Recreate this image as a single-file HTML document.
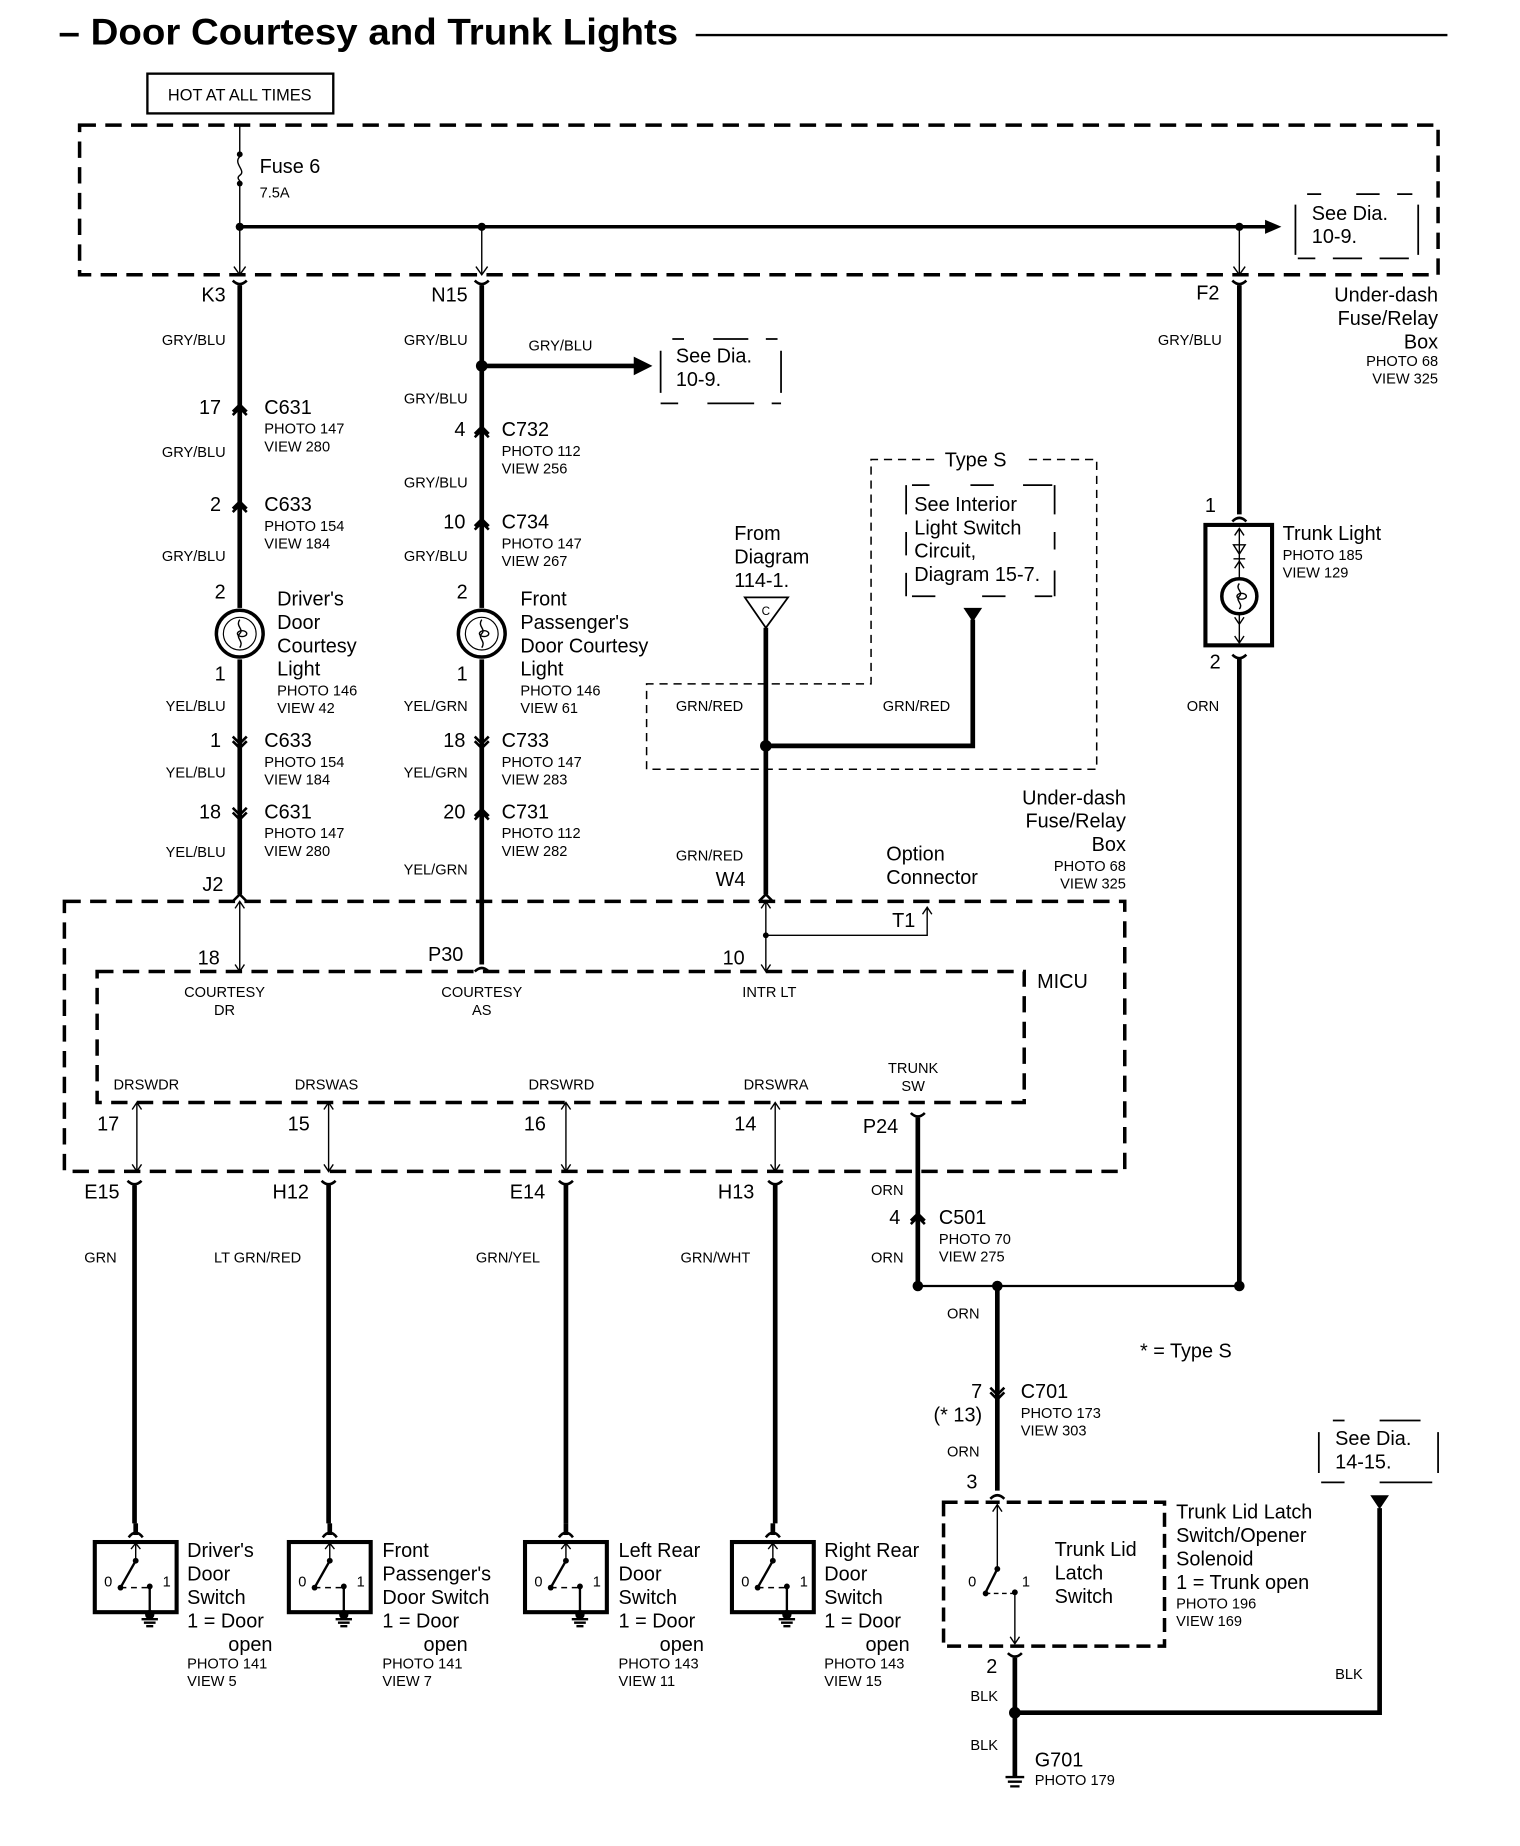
<!DOCTYPE html>
<html><head><meta charset="utf-8"><style>
html,body{margin:0;padding:0;background:#fff}
svg{display:block}
text{font-family:"Liberation Sans",Arial,sans-serif;fill:#000}
.s{font-size:12.5px}
.m{font-size:17px}
.r{text-anchor:end}
.c{text-anchor:middle}
.w{stroke:#000;stroke-width:4;fill:none}
.t{stroke:#000;stroke-width:1.2;fill:none}
.d{stroke:#000;stroke-width:3;fill:none;stroke-dasharray:14 8}
.dt{stroke:#000;stroke-width:1.3;fill:none;stroke-dasharray:7 5}
.ch{stroke:#000;stroke-width:2.2;fill:none}
</style></head><body>
<svg width="1520" height="1846" viewBox="0 0 1300 1579" xmlns="http://www.w3.org/2000/svg">
<defs>
<g id="sw">
 <rect x="0" y="0" width="70" height="60" fill="none" stroke="#000" stroke-width="3.5"/>
 <path d="M35,-16 V-6" stroke="#000" stroke-width="4"/>
 <path d="M29,-4 Q35,-12 41,-4" class="ch"/>
 <path d="M35,2 V15 M31,6 L35,1 L39,6" class="t"/>
 <circle cx="35" cy="16" r="2.5"/>
 <path d="M35,16 L22,39" stroke="#000" stroke-width="2"/>
 <circle cx="22" cy="39" r="2.5"/>
 <path d="M22,39 H46" class="t" stroke-dasharray="5 4"/>
 <circle cx="47" cy="38" r="2.5"/>
 <path d="M47,38 V60" stroke="#000" stroke-width="2"/>
 <text x="8" y="38" class="s">0</text><text x="58" y="38" class="s">1</text>
 <circle cx="47" cy="62" r="4"/>
 <path d="M40,66 H54 M42,69 H52 M44,72 H50" stroke="#000" stroke-width="2"/>
</g>
<g id="lamp">
 <circle cx="0" cy="0" r="20" fill="none" stroke="#000" stroke-width="3"/>
 <circle cx="0" cy="0" r="14" fill="none" stroke="#000" stroke-width="1"/>
 <path d="M0,-12 C-4,-6 4,-4 0,0 C-4,4 4,6 0,12" class="t"/>
 <ellipse cx="2" cy="0" rx="4" ry="2.5" class="t"/>
</g>
</defs>

<!-- Title -->
<text x="50" y="38" style="font-size:32px;font-weight:bold" textLength="530" lengthAdjust="spacingAndGlyphs">– Door Courtesy and Trunk Lights</text>
<path d="M595,30 H1238" stroke="#000" stroke-width="2"/>

<rect x="126" y="63" width="159" height="34" fill="none" stroke="#000" stroke-width="2"/>
<text x="205" y="86" class="c" style="font-size:14px">HOT AT ALL TIMES</text>

<!-- Top fuse box -->
<rect x="68" y="107" width="1162" height="128" class="d"/>
<path d="M205,107 V132 M205,157 V235" class="t"/>
<circle cx="205" cy="132" r="2.5"/><circle cx="205" cy="157" r="2.5"/>
<path d="M205,134 C199,140 211,146 205,150 C201,153 207,155 205,156" class="t"/>
<text x="222" y="148" class="m">Fuse 6</text>
<text x="222" y="169" class="s">7.5A</text>
<path d="M205,194 H1085" stroke="#000" stroke-width="3"/>
<path d="M1082,188 L1096,194 L1082,200 Z"/>
<circle cx="205" cy="194" r="3.5"/><circle cx="412" cy="194" r="3.5"/><circle cx="1060" cy="194" r="3.5"/>
<path d="M412,194 V235 M1060,194 V235" class="t"/>
<path d="M200,228 L205,235 L210,228 M407,228 L412,235 L417,228 M1055,228 L1060,235 L1065,228" class="t"/>
<path d="M1108,175 V218 M1213,175 V218 M1118,166 H1130 M1160,166 H1180 M1195,166 H1208 M1110,221 H1125 M1140,221 H1165 M1180,221 H1205" stroke="#000" stroke-width="1.5"/>
<text x="1122" y="188" class="m">See Dia.</text>
<text x="1122" y="208" class="m">10-9.</text>

<path d="M199,240 Q205,246 211,240 M406,240 Q412,246 418,240 M1054,240 Q1060,246 1066,240" class="ch"/>

<!-- K3 wire -->
<path d="M205,244 V765" class="w"/>
<text x="193" y="258" class="m r">K3</text>
<text x="193" y="295" class="s r">GRY/BLU</text>
<path d="M199,352 L205,346 L211,352 M199,355 L205,349 L211,355" class="ch"/>
<text x="189" y="354" class="m r">17</text>
<text x="226" y="354" class="m">C631</text><text x="226" y="371" class="s">PHOTO 147</text><text x="226" y="386" class="s">VIEW 280</text>
<text x="193" y="391" class="s r">GRY/BLU</text>
<path d="M199,435 L205,429 L211,435 M199,438 L205,432 L211,438" class="ch"/>
<text x="189" y="437" class="m r">2</text>
<text x="226" y="437" class="m">C633</text><text x="226" y="454" class="s">PHOTO 154</text><text x="226" y="469" class="s">VIEW 184</text>
<text x="193" y="480" class="s r">GRY/BLU</text>
<text x="193" y="512" class="m r">2</text>
<rect x="197" y="520" width="16" height="44" fill="#fff"/>
<use href="#lamp" x="205" y="542"/>
<text x="237" y="518" class="m">Driver's</text><text x="237" y="538" class="m">Door</text><text x="237" y="558" class="m">Courtesy</text><text x="237" y="578" class="m">Light</text>
<text x="237" y="595" class="s">PHOTO 146</text><text x="237" y="610" class="s">VIEW 42</text>
<text x="193" y="582" class="m r">1</text>
<text x="193" y="608" class="s r">YEL/BLU</text>
<path d="M199,630 L205,636 L211,630 M199,634 L205,640 L211,634" class="ch"/>
<text x="189" y="639" class="m r">1</text>
<text x="226" y="639" class="m">C633</text><text x="226" y="656" class="s">PHOTO 154</text><text x="226" y="671" class="s">VIEW 184</text>
<text x="193" y="665" class="s r">YEL/BLU</text>
<path d="M199,691 L205,697 L211,691 M199,695 L205,701 L211,695" class="ch"/>
<text x="189" y="700" class="m r">18</text>
<text x="226" y="700" class="m">C631</text><text x="226" y="717" class="s">PHOTO 147</text><text x="226" y="732" class="s">VIEW 280</text>
<text x="193" y="733" class="s r">YEL/BLU</text>
<text x="191" y="762" class="m r">J2</text>
<path d="M199,771 L205,765 L211,771" class="ch"/>

<!-- N15 wire -->
<path d="M412,244 V825" class="w"/>
<text x="400" y="258" class="m r">N15</text>
<text x="400" y="295" class="s r">GRY/BLU</text>
<circle cx="412" cy="313" r="5"/>
<path d="M412,313 H545" stroke="#000" stroke-width="4"/>
<path d="M542,305 L558,313 L542,321 Z"/>
<text x="452" y="300" class="s">GRY/BLU</text>
<path d="M565,300 V336 M668,300 V336 M575,290 H585 M610,290 H640 M655,290 H665 M565,345 H580 M605,345 H645 M660,345 H668" stroke="#000" stroke-width="1.5"/>
<text x="578" y="310" class="m">See Dia.</text><text x="578" y="330" class="m">10-9.</text>
<text x="400" y="345" class="s r">GRY/BLU</text>
<path d="M406,371 L412,365 L418,371 M406,374 L412,368 L418,374" class="ch"/>
<text x="398" y="373" class="m r">4</text>
<text x="429" y="373" class="m">C732</text><text x="429" y="390" class="s">PHOTO 112</text><text x="429" y="405" class="s">VIEW 256</text>
<text x="400" y="417" class="s r">GRY/BLU</text>
<path d="M406,450 L412,444 L418,450 M406,453 L412,447 L418,453" class="ch"/>
<text x="398" y="452" class="m r">10</text>
<text x="429" y="452" class="m">C734</text><text x="429" y="469" class="s">PHOTO 147</text><text x="429" y="484" class="s">VIEW 267</text>
<text x="400" y="480" class="s r">GRY/BLU</text>
<text x="400" y="512" class="m r">2</text>
<rect x="404" y="520" width="16" height="44" fill="#fff"/>
<use href="#lamp" x="412" y="542"/>
<text x="445" y="518" class="m">Front</text><text x="445" y="538" class="m">Passenger's</text><text x="445" y="558" class="m">Door Courtesy</text><text x="445" y="578" class="m">Light</text>
<text x="445" y="595" class="s">PHOTO 146</text><text x="445" y="610" class="s">VIEW 61</text>
<text x="400" y="582" class="m r">1</text>
<text x="400" y="608" class="s r">YEL/GRN</text>
<path d="M406,630 L412,636 L418,630 M406,634 L412,640 L418,634" class="ch"/>
<text x="398" y="639" class="m r">18</text>
<text x="429" y="639" class="m">C733</text><text x="429" y="656" class="s">PHOTO 147</text><text x="429" y="671" class="s">VIEW 283</text>
<text x="400" y="665" class="s r">YEL/GRN</text>
<path d="M406,698 L412,692 L418,698 M406,701 L412,695 L418,701" class="ch"/>
<text x="398" y="700" class="m r">20</text>
<text x="429" y="700" class="m">C731</text><text x="429" y="717" class="s">PHOTO 112</text><text x="429" y="732" class="s">VIEW 282</text>
<text x="400" y="748" class="s r">YEL/GRN</text>

<!-- C wire -->
<text x="628" y="462" class="m">From</text><text x="628" y="482" class="m">Diagram</text><text x="628" y="502" class="m">114-1.</text>
<path d="M637,511 H674 L655,537 Z" fill="none" stroke="#000" stroke-width="1.5"/>
<text x="655" y="526" class="c" style="font-size:10px">C</text>
<path d="M655,537 V765" class="w"/>
<circle cx="655" cy="638" r="5"/>
<path d="M655,638 H832 V530" class="w"/>
<path d="M824,520 H840 L832,532 Z"/>
<path d="M553,658 V585 H745 V393 H800 M880,393 H938 V658 H553" class="dt"/>
<text x="808" y="399" class="m">Type S</text>
<path d="M775,415 V440 M775,455 V475 M775,490 V510 M902,415 V440 M902,455 V470 M902,488 V510 M780,415 H795 M830,415 H850 M875,415 H900 M780,510 H800 M840,510 H860 M885,510 H900" stroke="#000" stroke-width="1.5"/>
<text x="782" y="437" class="m">See Interior</text><text x="782" y="457" class="m">Light Switch</text><text x="782" y="477" class="m">Circuit,</text><text x="782" y="497" class="m">Diagram 15-7.</text>
<text x="578" y="608" class="s">GRN/RED</text><text x="755" y="608" class="s">GRN/RED</text>
<text x="578" y="736" class="s">GRN/RED</text>
<text x="612" y="758" class="m">W4</text>
<path d="M649,771 L655,765 L661,771" class="ch"/>
<text x="963" y="688" class="m r">Under-dash</text><text x="963" y="708" class="m r">Fuse/Relay</text><text x="963" y="728" class="m r">Box</text>
<text x="963" y="745" class="s r">PHOTO 68</text><text x="963" y="760" class="s r">VIEW 325</text>
<text x="758" y="736" class="m">Option</text><text x="758" y="756" class="m">Connector</text>
<text x="763" y="793" class="m">T1</text>
<circle cx="655" cy="800" r="2.5"/>
<path d="M655,800 H793 V777 M789,782 L793,776 L797,782" class="t"/>

<!-- MICU -->
<rect x="55" y="771" width="907" height="231" class="d"/>
<rect x="83" y="831" width="793" height="112" class="d"/>
<text x="887" y="845" class="m">MICU</text>
<path d="M205,771 V831 M201,777 L205,771 L209,777 M201,825 L205,831 L209,825" class="t"/>
<path d="M655,771 V831 M651,777 L655,771 L659,777 M651,825 L655,831 L659,825" class="t"/>
<path d="M406,831 Q412,825 418,831" class="ch"/>
<text x="169" y="825" class="m">18</text><text x="366" y="822" class="m">P30</text><text x="618" y="825" class="m">10</text>
<text x="192" y="853" class="s c">COURTESY</text><text x="192" y="868" class="s c">DR</text>
<text x="412" y="853" class="s c">COURTESY</text><text x="412" y="868" class="s c">AS</text>
<text x="658" y="853" class="s c">INTR LT</text>
<text x="97" y="932" class="s">DRSWDR</text><text x="252" y="932" class="s">DRSWAS</text>
<text x="452" y="932" class="s">DRSWRD</text><text x="636" y="932" class="s">DRSWRA</text>
<text x="781" y="918" class="s c">TRUNK</text><text x="781" y="933" class="s c">SW</text>
<text x="83" y="967" class="m">17</text><text x="246" y="967" class="m">15</text>
<text x="448" y="967" class="m">16</text><text x="628" y="967" class="m">14</text>
<text x="738" y="969" class="m">P24</text>
<path d="M117,943 V1002 M281,943 V1002 M484,943 V1002 M663,943 V1002" class="t"/>
<path d="M113,949 L117,943 L121,949 M113,996 L117,1002 L121,996 M277,949 L281,943 L285,949 M277,996 L281,1002 L285,996 M480,949 L484,943 L488,949 M480,996 L484,1002 L488,996 M659,949 L663,943 L667,949 M659,996 L663,1002 L667,996" class="t"/>
<path d="M779,952 Q785,958 791,952" class="ch"/>
<path d="M785,956 V1100" class="w"/>

<!-- bottom wires -->
<path d="M109,1010 Q115,1016 121,1010 M275,1010 Q281,1016 287,1010 M478,1010 Q484,1016 490,1010 M657,1010 Q663,1016 669,1010" class="ch"/>
<path d="M115,1014 V1303 M281,1014 V1303 M484,1014 V1303 M663,1014 V1303" class="w"/>
<text x="72" y="1025" class="m">E15</text><text x="233" y="1025" class="m">H12</text>
<text x="436" y="1025" class="m">E14</text><text x="614" y="1025" class="m">H13</text>
<text x="72" y="1080" class="s">GRN</text><text x="183" y="1080" class="s">LT GRN/RED</text>
<text x="407" y="1080" class="s">GRN/YEL</text><text x="582" y="1080" class="s">GRN/WHT</text>
<text x="745" y="1022" class="s">ORN</text>
<path d="M779,1044 L785,1038 L791,1044 M779,1047 L785,1041 L791,1047" class="ch"/>
<text x="770" y="1047" class="m r">4</text>
<text x="803" y="1047" class="m">C501</text><text x="803" y="1064" class="s">PHOTO 70</text><text x="803" y="1079" class="s">VIEW 275</text>
<text x="745" y="1080" class="s">ORN</text>

<use href="#sw" x="81" y="1319"/>
<use href="#sw" x="247" y="1319"/>
<use href="#sw" x="449" y="1319"/>
<use href="#sw" x="626" y="1319"/>
<text x="160" y="1332" class="m">Driver's</text><text x="160" y="1352" class="m">Door</text><text x="160" y="1372" class="m">Switch</text><text x="160" y="1392" class="m">1 = Door</text><text x="233" y="1412" class="m r">open</text>
<text x="160" y="1427" class="s">PHOTO 141</text><text x="160" y="1442" class="s">VIEW 5</text>
<text x="327" y="1332" class="m">Front</text><text x="327" y="1352" class="m">Passenger's</text><text x="327" y="1372" class="m">Door Switch</text><text x="327" y="1392" class="m">1 = Door</text><text x="400" y="1412" class="m r">open</text>
<text x="327" y="1427" class="s">PHOTO 141</text><text x="327" y="1442" class="s">VIEW 7</text>
<text x="529" y="1332" class="m">Left Rear</text><text x="529" y="1352" class="m">Door</text><text x="529" y="1372" class="m">Switch</text><text x="529" y="1392" class="m">1 = Door</text><text x="602" y="1412" class="m r">open</text>
<text x="529" y="1427" class="s">PHOTO 143</text><text x="529" y="1442" class="s">VIEW 11</text>
<text x="705" y="1332" class="m">Right Rear</text><text x="705" y="1352" class="m">Door</text><text x="705" y="1372" class="m">Switch</text><text x="705" y="1392" class="m">1 = Door</text><text x="778" y="1412" class="m r">open</text>
<text x="705" y="1427" class="s">PHOTO 143</text><text x="705" y="1442" class="s">VIEW 15</text>

<!-- F2 / trunk light -->
<path d="M1060,244 V440" class="w"/>
<text x="1043" y="256" class="m r">F2</text>
<text x="1045" y="295" class="s r">GRY/BLU</text>
<text x="1230" y="258" class="m r">Under-dash</text><text x="1230" y="278" class="m r">Fuse/Relay</text><text x="1230" y="298" class="m r">Box</text>
<text x="1230" y="313" class="s r">PHOTO 68</text><text x="1230" y="328" class="s r">VIEW 325</text>
<path d="M1054,446 Q1060,440 1066,446" class="ch"/>
<text x="1040" y="438" class="m r">1</text>
<rect x="1031" y="449" width="57" height="103" fill="none" stroke="#000" stroke-width="3.5"/>
<path d="M1060,452 V495 M1056,458 L1060,452 L1064,458 M1055,466 H1065 L1060,474 Z M1055,478 H1065 M1056,486 L1060,480 L1064,486 M1060,525 V550 M1056,528 L1060,534 L1064,528 M1056,544 L1060,550 L1064,544" class="t"/>
<circle cx="1060" cy="510" r="15" fill="none" stroke="#000" stroke-width="3"/>
<path d="M1060,499 C1056,504 1064,506 1060,510 C1056,514 1064,516 1060,521" class="t"/>
<ellipse cx="1062" cy="510" rx="4" ry="2.5" class="t"/>
<text x="1097" y="462" class="m">Trunk Light</text><text x="1097" y="479" class="s">PHOTO 185</text><text x="1097" y="494" class="s">VIEW 129</text>
<text x="1044" y="572" class="m r">2</text>
<path d="M1054,560 Q1060,566 1066,560" class="ch"/>
<path d="M1060,563 V1100" class="w"/>
<text x="1015" y="608" class="s">ORN</text>

<!-- splice -->
<path d="M785,1100 H1060" stroke="#000" stroke-width="2"/>
<circle cx="785" cy="1100" r="4.5"/><circle cx="853" cy="1100" r="4.5"/><circle cx="1060" cy="1100" r="4.5"/>
<path d="M853,1100 V1275" class="w"/>
<text x="810" y="1128" class="s">ORN</text>
<text x="975" y="1161" class="m">* = Type S</text>
<path d="M847,1187 L853,1193 L859,1187 M847,1191 L853,1197 L859,1191" class="ch"/>
<text x="840" y="1196" class="m r">7</text>
<text x="840" y="1216" class="m r">(* 13)</text>
<text x="873" y="1196" class="m">C701</text><text x="873" y="1213" class="s">PHOTO 173</text><text x="873" y="1228" class="s">VIEW 303</text>
<text x="810" y="1246" class="s">ORN</text>
<text x="836" y="1273" class="m r">3</text>
<path d="M847,1282 Q853,1276 859,1282" class="ch"/>
<rect x="807" y="1285" width="189" height="123" class="d" style="stroke-dasharray:12 6"/>
<path d="M853,1287 V1342 M849,1293 L853,1287 L857,1293" class="t"/>
<circle cx="853" cy="1342" r="2.5"/>
<path d="M853,1342 L843,1362" stroke="#000" stroke-width="2"/>
<circle cx="843" cy="1363" r="2.5"/>
<path d="M843,1363 H866" class="t" stroke-dasharray="4 3"/>
<circle cx="868" cy="1362" r="2.5"/>
<path d="M868,1362 V1406 M864,1400 L868,1406 L872,1400" class="t"/>
<text x="828" y="1357" class="s">0</text><text x="874" y="1357" class="s">1</text>
<text x="902" y="1331" class="m">Trunk Lid</text><text x="902" y="1351" class="m">Latch</text><text x="902" y="1371" class="m">Switch</text>
<text x="1006" y="1299" class="m">Trunk Lid Latch</text><text x="1006" y="1319" class="m">Switch/Opener</text><text x="1006" y="1339" class="m">Solenoid</text><text x="1006" y="1359" class="m">1 = Trunk open</text>
<text x="1006" y="1376" class="s">PHOTO 196</text><text x="1006" y="1391" class="s">VIEW 169</text>
<text x="853" y="1431" class="m r">2</text>
<path d="M862,1414 Q868,1420 874,1414" class="ch"/>
<path d="M868,1418 V1520" class="w"/>
<text x="830" y="1455" class="s">BLK</text>
<circle cx="868" cy="1465" r="5"/>
<path d="M868,1465 H1180 V1290" class="w"/>
<path d="M1172,1279 H1188 L1180,1291 Z"/>
<path d="M1128,1225 V1260 M1230,1225 V1260 M1140,1215 H1150 M1180,1215 H1215 M1130,1268 H1150 M1180,1268 H1225" stroke="#000" stroke-width="1.5"/>
<text x="1142" y="1236" class="m">See Dia.</text><text x="1142" y="1256" class="m">14-15.</text>
<text x="1142" y="1436" class="s">BLK</text>
<text x="830" y="1497" class="s">BLK</text>
<path d="M860,1520 H876 M862,1524 H874 M864,1528 H872" stroke="#000" stroke-width="2"/>
<text x="885" y="1511" class="m">G701</text><text x="885" y="1527" class="s">PHOTO 179</text>
</svg>
</body></html>
